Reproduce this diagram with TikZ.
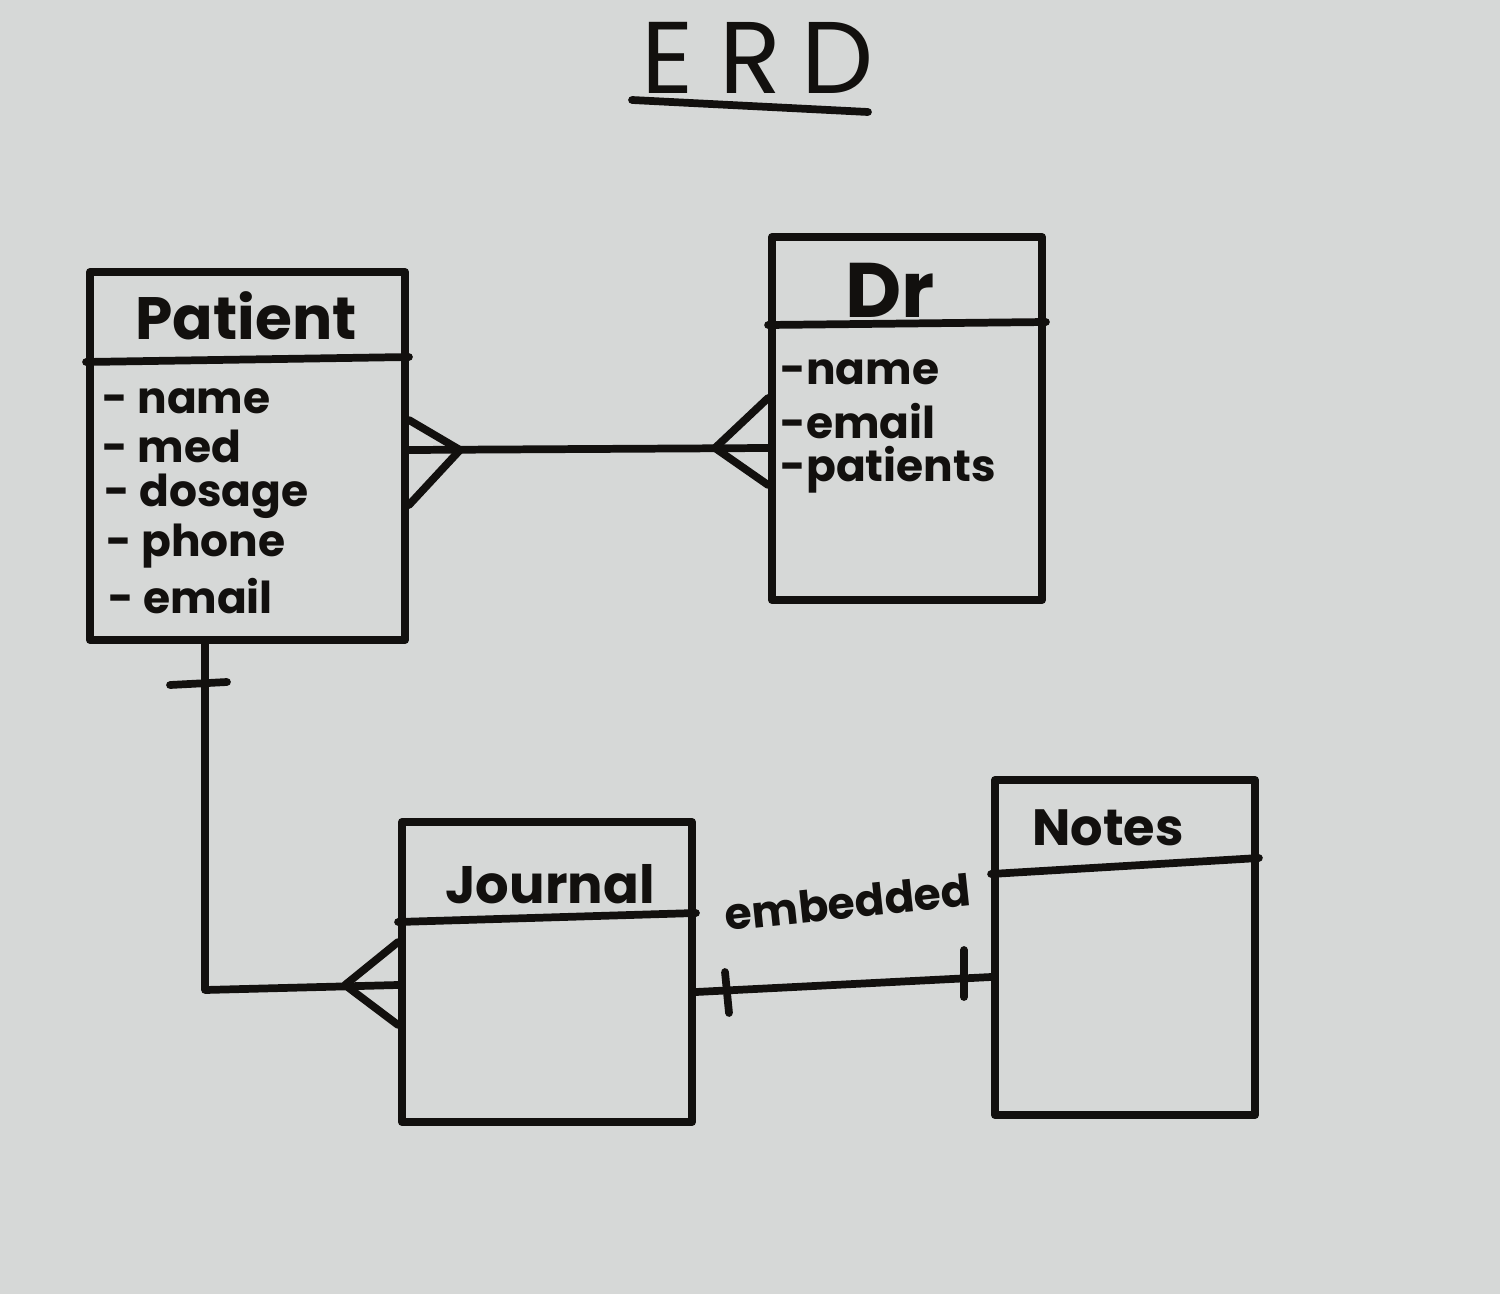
\documentclass[tikz,border=0pt]{standalone}
\usepackage{fontspec}
\setmainfont{Poppins}
\usetikzlibrary{calc}
\definecolor{board}{RGB}{214,216,215}
\definecolor{ink}{RGB}{18,16,14}
\begin{document}
\begin{tikzpicture}[x=0.01cm,y=-0.01cm,
  ink/.style={draw=ink,line width=2.2pt,line cap=round,line join=round},
  entity/.style={ink,rectangle,inner sep=0pt},
  etitle/.style={text=ink,font=\bfseries\fontsize{17}{19}\selectfont},
  attr/.style={text=ink,anchor=west,inner sep=0pt,font=\bfseries\fontsize{12.5}{14}\selectfont},
  dattr/.style={attr,font=\bfseries\fontsize{12.5}{14}\selectfont},
  lbl/.style={text=ink,font=\bfseries\fontsize{12.5}{14}\selectfont}]
\fill[board] (0,0) rectangle (1500,1294);
\useasboundingbox (0,0) rectangle (1500,1294);

% title
\node[text=ink,anchor=base,inner sep=0pt,font=\fontsize{29}{32}\selectfont] (title) at (758,94) {E\hspace{0.25em}R\hspace{0.2em}D};
\draw[ink] (632,100) -- (868,112);

% entities
\node[entity,minimum width=3.15cm,minimum height=3.68cm] (Patient) at (247.5,456) {};
\node[entity,minimum width=2.70cm,minimum height=3.63cm] (Dr) at (907,418.5) {};
\node[entity,minimum width=2.90cm,minimum height=3.00cm] (Journal) at (547,972) {};
\node[entity,minimum width=2.60cm,minimum height=3.35cm] (Notes) at (1125,947.5) {};

% header dividers
\draw[ink] (Patient.west |- 0,362) -- (Patient.east |- 0,357);
\draw[ink] (Dr.west |- 0,325) -- (Dr.east |- 0,322);
\draw[ink] (Journal.west |- 0,922) -- (Journal.east |- 0,913);
\draw[ink] (Notes.west |- 0,874) -- (Notes.east |- 0,858);

% titles
\node[etitle] (tPatient) at (246,316) {Patient};
\node[etitle,font=\bfseries\fontsize{22}{24}\selectfont] (tDr) at (890,290) {Dr};
\node[etitle,font=\bfseries\fontsize{15}{17}\selectfont] (tJournal) at (550,884) {Journal};
\node[etitle,font=\bfseries\fontsize{14.5}{16}\selectfont] (tNotes) at (1108,828) {Notes};

% Patient attributes
\node[attr] (pa1) at (102,401) {- name};
\node[attr] (pa2) at (102,446) {- med};
\node[attr] (pa3) at (104,496) {- dosage};
\node[attr] (pa4) at (106,546) {- phone};
\node[attr] (pa5) at (108,596) {- email};

% Dr attributes
\node[dattr] (da1) at (780,372) {-name};
\node[dattr] (da2) at (780,421) {-email};
\node[dattr] (da3) at (780,470) {-patients};

% Patient -- Dr (many to many)
\coordinate (cfP) at (460,450);
\coordinate (cfD) at (715,448);
\draw[ink] (Patient.east |- cfP) -- (Dr.west |- cfD);
\draw[ink] (Patient.east |- 0,420) -- (cfP) -- (Patient.east |- 0,505);
\draw[ink] (Dr.west |- 0,398) -- (cfD) -- (Dr.west |- 0,485);

% Patient -- Journal (one to many)
\coordinate (corner) at (205,990);
\coordinate (cfJ) at (345,985);
\draw[ink] (Patient.south -| corner) -- (corner) -- (Journal.west |- cfJ);
\draw[ink] (170,685) -- (227,682);
\draw[ink] (Journal.west |- 0,942) -- (cfJ) -- (Journal.west |- 0,1025);

% Journal -- Notes (one to one, embedded)
\coordinate (jn1) at (0,992);
\coordinate (jn2) at (0,977);
\draw[ink] (Journal.east |- jn1) -- (Notes.west |- jn2);
\draw[ink] (725,972) -- (729,1013);
\draw[ink] (964,950) -- (964,997);
\node[lbl,rotate=6] (emb) at (848,902) {embedded};
\end{tikzpicture}
\end{document}
